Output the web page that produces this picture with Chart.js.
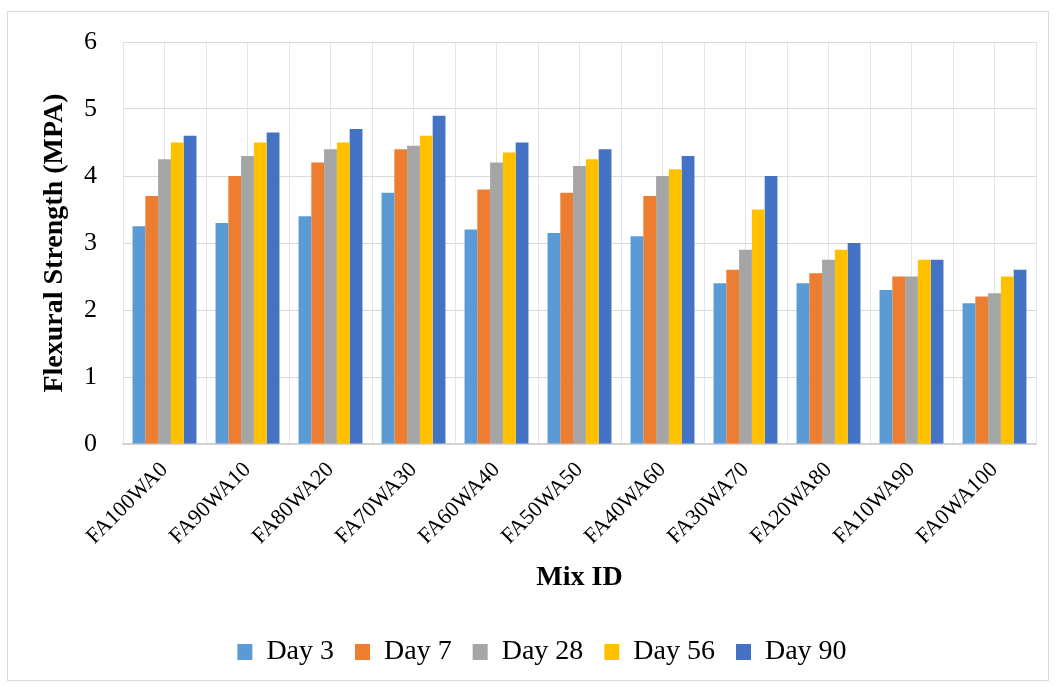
<!DOCTYPE html>
<html>
<head>
<meta charset="utf-8">
<script src="https://cdn.jsdelivr.net/npm/chart.js@4/dist/chart.umd.min.js"></script>
<style>
  html, body { margin: 0; padding: 0; background: #fff; }
  #c { display: block; }
</style>
</head>
<body>
<canvas id="c" width="1056" height="687"></canvas>
<script>
// Mix designs along the horizontal axis
const mixIds = ['FA100WA0', 'FA90WA10', 'FA80WA20', 'FA70WA30', 'FA60WA40', 'FA50WA50',
                'FA40WA60', 'FA30WA70', 'FA20WA80', 'FA10WA90', 'FA0WA100'];

// Flexural strength (MPa) by curing age
const day3  = [3.25, 3.30, 3.40, 3.75, 3.20, 3.15, 3.10, 2.40, 2.40, 2.30, 2.10];
const day7  = [3.70, 4.00, 4.20, 4.40, 3.80, 3.75, 3.70, 2.60, 2.55, 2.50, 2.20];
const day28 = [4.25, 4.30, 4.40, 4.45, 4.20, 4.15, 4.00, 2.90, 2.75, 2.50, 2.25];
const day56 = [4.50, 4.50, 4.50, 4.60, 4.35, 4.25, 4.10, 3.50, 2.90, 2.75, 2.50];
const day90 = [4.60, 4.65, 4.70, 4.90, 4.50, 4.40, 4.30, 4.00, 3.00, 2.75, 2.60];

const seriesNames = ['Day 3', 'Day 7', 'Day 28', 'Day 56', 'Day 90'];
const seriesColors = ['#5B9BD5', '#ED7D31', '#A5A5A5', '#FFC000', '#4472C4'];

const yMin = 0, yMax = 6, yStep = 1;

const serif = "'Liberation Serif', 'Times New Roman', serif";

// White background and thin frame around the whole chart;
// the legend row sits a little right of the canvas centre
const framePlugin = {
  id: 'frame',
  afterLayout(chart) {
    if (chart.legend) {
      chart.legend.left += 20;
      chart.legend.right += 20;
    }
  },
  beforeDraw(chart) {
    const ctx = chart.ctx;
    ctx.save();
    ctx.fillStyle = '#ffffff';
    ctx.fillRect(0, 0, chart.width, chart.height);
    ctx.strokeStyle = '#d9d9d9';
    ctx.lineWidth = 1;
    ctx.strokeRect(7.5, 11.5, chart.width - 15, chart.height - 18);
    ctx.restore();
  }
};

const allSeries = [day3, day7, day28, day56, day90];

new Chart(document.getElementById('c'), {
  type: 'bar',
  data: {
    labels: mixIds,
    datasets: allSeries.map((vals, i) => ({
      label: seriesNames[i],
      data: vals,
      backgroundColor: seriesColors[i],
      borderWidth: 0,
      categoryPercentage: 0.77,
      barPercentage: 1.0,
      xAxisID: 'x',
      yAxisID: 'y'
    }))
  },
  options: {
    responsive: false,
    animation: false,
    layout: { padding: { left: 8, right: 20, top: 42, bottom: 11 } },
    plugins: {
      legend: {
        position: 'bottom',
        labels: {
          color: '#000',
          font: { family: serif, size: 28 },
          boxWidth: 15,
          boxHeight: 16,
          padding: 21
        }
      },
      tooltip: { enabled: false }
    },
    scales: {
      x: {
        type: 'category',
        position: 'bottom',
        offset: true,
        grid: { offset: true, color: '#e4e4e4', lineWidth: 1, drawTicks: false },
        border: { display: true, color: '#d0d0d0', width: 1.5 },
        ticks: {
          color: '#000',
          font: { family: serif, size: 22 },
          minRotation: 45,
          maxRotation: 45,
          padding: 13,
          autoSkip: false
        },
        title: {
          display: true,
          text: 'Mix ID',
          color: '#000',
          font: { family: serif, size: 28, weight: 'bold' },
          padding: { top: 0, bottom: 22 }
        },
        afterFit(scale) { scale.height = 173; }
      },
      x2: {
        type: 'category',
        position: 'bottom',
        offset: true,
        grid: { offset: false, color: '#e4e4e4', lineWidth: 1, drawTicks: false },
        border: { display: false },
        ticks: { display: false }
      },
      y: {
        min: yMin,
        max: yMax,
        grid: { color: '#d9d9d9', lineWidth: 1, drawTicks: false },
        border: { display: false },
        ticks: {
          stepSize: yStep,
          color: '#000',
          font: { family: serif, size: 26 },
          padding: 26
        },
        title: {
          display: true,
          text: 'Flexural Strength (MPA)',
          color: '#000',
          font: { family: serif, size: 28, weight: 'bold' },
          padding: { top: 30, bottom: 0 }
        },
        afterFit(scale) { scale.width = 115; }
      }
    }
  },
  plugins: [framePlugin]
});
</script>
</body>
</html>
